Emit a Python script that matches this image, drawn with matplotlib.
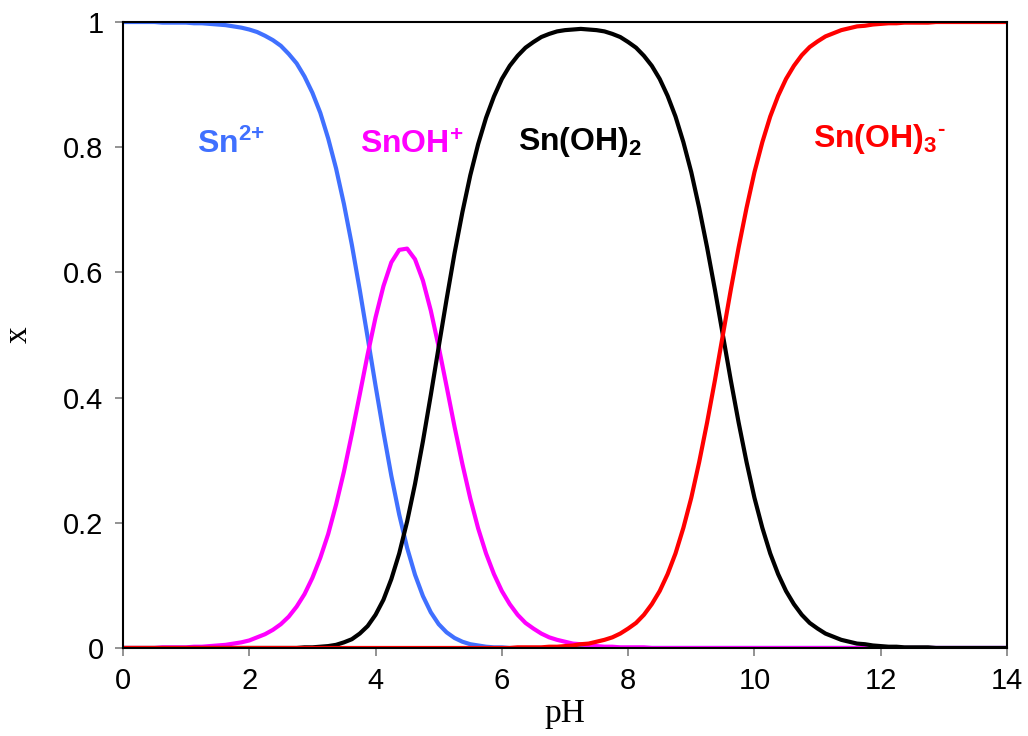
import matplotlib.pyplot as plt
import numpy as np

plt.rcParams['font.family'] = 'Liberation Sans'
plt.rcParams['mathtext.fontset'] = 'custom'
plt.rcParams['mathtext.rm'] = 'Liberation Sans'
plt.rcParams['mathtext.bf'] = 'Liberation Sans:bold'

# pH grid, step 0.125 (113 points)
ph = np.arange(0, 14.001, 0.125)

# mole fractions
sn2 = [1.000, 1.000, 1.000, 1.000, 1.000, 0.999, 0.999, 0.999,
       0.999, 0.998, 0.998, 0.997, 0.996, 0.995, 0.993, 0.991,
       0.988, 0.984, 0.978, 0.971, 0.962, 0.949, 0.934, 0.913,
       0.887, 0.855, 0.814, 0.766, 0.709, 0.644, 0.572, 0.496,
       0.419, 0.345, 0.275, 0.213, 0.160, 0.117, 0.083, 0.057,
       0.038, 0.025, 0.016, 0.010, 0.006, 0.004, 0.002, 0.001,
       0.001] + [0.0] * 64

snoh = [0.000, 0.000, 0.000, 0.000, 0.000, 0.001, 0.001, 0.001,
        0.001, 0.002, 0.002, 0.003, 0.004, 0.005, 0.007, 0.009,
        0.012, 0.017, 0.022, 0.029, 0.038, 0.050, 0.066, 0.086,
        0.112, 0.144, 0.182, 0.229, 0.282, 0.342, 0.405, 0.469,
        0.528, 0.578, 0.616, 0.636, 0.638, 0.621, 0.587, 0.539,
        0.481, 0.418, 0.354, 0.294, 0.239, 0.191, 0.151, 0.118,
        0.091, 0.070, 0.053, 0.040, 0.031, 0.023, 0.017, 0.013,
        0.010, 0.007, 0.006, 0.004, 0.003, 0.002, 0.002, 0.001,
        0.001, 0.001, 0.001] + [0.0] * 46

snoh2 = [0.0] * 23 + [
    0.001, 0.001, 0.002, 0.003, 0.005, 0.009, 0.014, 0.023,
    0.035, 0.053, 0.077, 0.110, 0.151, 0.202, 0.262, 0.330,
    0.404, 0.481, 0.557, 0.630, 0.696, 0.755, 0.805, 0.847,
    0.881, 0.909, 0.930, 0.946, 0.959, 0.968, 0.976, 0.981,
    0.985, 0.987, 0.988, 0.989, 0.988, 0.987, 0.985, 0.981,
    0.976, 0.968, 0.959, 0.946, 0.930, 0.909, 0.882, 0.849,
    0.808, 0.760, 0.703, 0.640, 0.572, 0.500, 0.428, 0.360,
    0.297, 0.240, 0.192, 0.151, 0.118, 0.091, 0.070, 0.053,
    0.040, 0.031, 0.023, 0.018, 0.013, 0.010, 0.007, 0.006,
    0.004, 0.003, 0.002, 0.002, 0.001, 0.001, 0.001, 0.001] + [0.0] * 10

snoh3 = [0.0] * 50 + [
    0.001, 0.001, 0.001, 0.001, 0.002, 0.002, 0.003, 0.004,
    0.006, 0.007, 0.010, 0.013, 0.017, 0.023, 0.031, 0.040,
    0.053, 0.070, 0.091, 0.118, 0.151, 0.192, 0.240, 0.297,
    0.360, 0.428, 0.500, 0.572, 0.640, 0.703, 0.760, 0.808,
    0.849, 0.882, 0.909, 0.930, 0.947, 0.960, 0.969, 0.977,
    0.982, 0.987, 0.990, 0.993, 0.994, 0.996, 0.997, 0.998,
    0.998, 0.999, 0.999, 0.999, 0.999] + [1.0] * 10

fig = plt.figure(figsize=(10.28, 7.36), dpi=100)
ax = fig.add_axes([0.1196, 0.1196, 0.86, 0.8505])

kw = dict(lw=3, solid_joinstyle='round')
ax.plot(ph, sn2, color='#4070ff', **kw)
ax.plot(ph, snoh, color='#ff00ff', **kw)
ax.plot(ph, snoh2, color='black', **kw)
ax.plot(ph, snoh3, color='#ff0000', **kw)

ax.text(1.17, 0.79, r'$\mathbf{Sn^{2{+}}}$', color='#4070ff', fontsize=23)
ax.text(3.75, 0.79, r'$\mathbf{SnOH^{+}}$', color='#ff00ff', fontsize=23)
ax.text(6.26, 0.795, r'$\mathbf{Sn(OH)_{2}}$', color='black', fontsize=23)
ax.text(10.93, 0.80, '$\\mathbf{Sn(OH)_{3}{}^{\u2010}}$', color='#ff0000', fontsize=23)

ax.set_xlim(0, 14)
ax.set_ylim(0, 1)
ax.set_xticks(np.arange(0, 15, 2))
ax.set_yticks([0, 0.2, 0.4, 0.6, 0.8, 1])
ax.set_yticklabels(['0', '0.2', '0.4', '0.6', '0.8', '1'])
ax.tick_params(direction='out', length=6, width=1.2, color='gray',
               labelsize=21, pad=8)
for s in ax.spines.values():
    s.set_linewidth(1.5)

ax.set_xlabel('pH', fontsize=24, family='Liberation Serif', labelpad=2)
ax.set_ylabel('x', fontsize=24, family='Liberation Serif', labelpad=21)

plt.savefig('out.png')
